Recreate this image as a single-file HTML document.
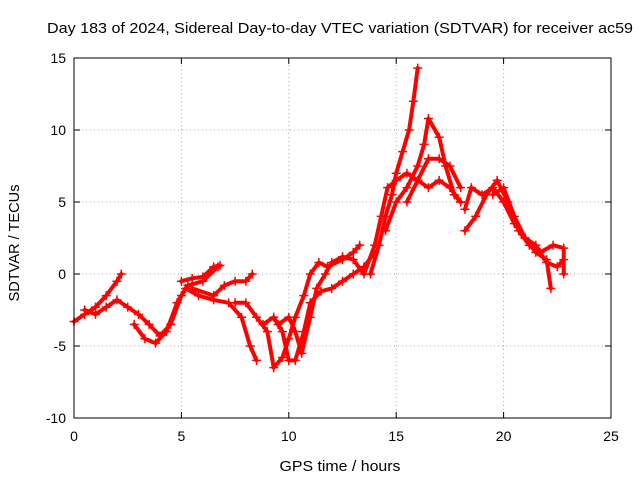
<!DOCTYPE html>
<html><head><meta charset="utf-8"><style>
body{margin:0;background:#fff;}
svg{display:block;font-family:"Liberation Sans",sans-serif;}
</style></head><body>
<svg id="chart" width="640" height="480">
<rect x="0" y="0" width="640" height="480" fill="#fff"/>
<text x="340" y="33" text-anchor="middle" font-size="15" textLength="586" lengthAdjust="spacingAndGlyphs">Day 183 of 2024, Sidereal Day-to-day VTEC variation (SDTVAR) for receiver ac59</text>
<text x="340" y="471" text-anchor="middle" font-size="15" textLength="121" lengthAdjust="spacingAndGlyphs">GPS time / hours</text>
<text transform="translate(19,243) rotate(-90)" text-anchor="middle" font-size="15" textLength="117" lengthAdjust="spacingAndGlyphs">SDTVAR / TECUs</text>
<g id="grid"></g><g id="ticks"></g><g id="marks"></g>
<rect x="74" y="58" width="537" height="360" fill="none" stroke="#000"/>
</svg>
<script>
const xTicks=[0,5,10,15,20,25];
const yTicks=[-10,-5,0,5,10,15];
const trackA=[[0,-3.3],[0.5,-2.8],[1,-2.3],[1.5,-1.5],[2,-0.5],[2.2,0]];
const trackB=[[0.5,-2.5],[1,-2.8],[1.5,-2.3],[2,-1.8],[2.5,-2.3],[3,-2.8],[3.5,-3.5],[4,-4.3],[4.5,-3.5],[5,-1.5],[5.3,-0.8],[6,-0.5],[6.7,0.5]];
const trackC=[[2.8,-3.5],[3.3,-4.5],[3.8,-4.8],[4.3,-4],[4.8,-2],[5.2,-1],[5.8,-1.5],[6.5,-1.8],[7.2,-2],[7.8,-3],[8.2,-5],[8.5,-6]];
const trackD=[[5,-0.5],[5.5,-0.3],[6,-0.2],[6.5,0.5],[6.8,0.6]];
const trackD2=[[5.5,-1],[6.5,-1.5],[7,-0.8],[7.5,-0.5],[8,-0.5],[8.3,0]];
const trackE=[[7.5,-2],[8,-2],[8.5,-3],[9,-4],[9.3,-6.5],[9.7,-5.8],[10,-4.5],[10.3,-3],[10.7,-1.5],[11,0],[11.4,0.8],[11.8,0.5],[12.5,1],[13,1.5],[13.3,2]];
const trackF=[[8.8,-3.5],[9.3,-3],[9.7,-4],[10,-6],[10.3,-6],[10.7,-4],[11,-2],[11.5,-1.2],[12,-1],[12.5,-0.5],[13,0],[13.5,0.5],[14,1.5]];
const trackG=[[9.5,-3.5],[10,-3],[10.3,-4],[10.6,-5.5],[11,-3],[11.3,-1],[11.7,0],[12,0.8],[12.5,1.2],[13,1],[13.5,0],[14,2],[14.3,4],[14.6,6],[15,6.5],[15.5,7],[16,6.5],[16.5,6],[17,6.5],[17.5,6],[18,5]];
const trackH=[[13.8,0],[14.2,2],[14.5,4],[14.8,5.5],[15,7],[15.3,8.5],[15.6,10],[15.8,12],[16,14.3]];
const trackI=[[14.5,3],[15,5],[15.5,6],[16,7.5],[16.3,9],[16.5,10.8],[17,9.5],[17.3,7.5],[17.7,5.5],[18,5]];
const trackJ=[[15.5,5],[16,6.5],[16.5,8],[17,8],[17.5,7.5],[18,6]];
const trackK=[[18.2,4.5],[18.5,6],[19,5.5],[19.5,6],[20,5],[20.5,3.5],[21,2.5],[21.5,1.5],[22,1],[22.2,-1]];
const trackL=[[18.2,3],[18.7,4],[19.2,5.5],[19.7,6.5],[20.2,5],[20.7,3],[21.2,2],[21.7,1.5],[22.3,2],[22.8,1.8],[22.8,0]];
const trackM=[[19.5,5.5],[20,6],[20.5,4],[21,2.5],[21.5,2],[22,0.8],[22.5,0.5],[22.8,1]];
const tracks=[trackA,trackB,trackC,trackD,trackD2,trackE,trackF,trackG,trackH,trackI,trackJ,trackK,trackL,trackM];

const NS="http://www.w3.org/2000/svg";
const X0=74,X1=611,Y0=418,Y1=58;
const xs=v=>X0+(v-0)/(25-0)*(X1-X0);
const ys=v=>Y0-(v+10)/(15+10)*(Y0-Y1);
function mk(tag,attrs,parent){const e=document.createElementNS(NS,tag);for(const k in attrs)e.setAttribute(k,attrs[k]);parent.appendChild(e);return e;}
const grid=document.getElementById('grid'),ticks=document.getElementById('ticks'),marks=document.getElementById('marks');
xTicks.forEach(t=>{
  const x=xs(t);
  if(t>0&&t<25){const g=mk('line',{x1:x,x2:x,y1:Y0,y2:Y1,stroke:'#aaa','stroke-dasharray':'1,3'},grid);
  
  }
  mk('line',{x1:x,x2:x,y1:Y0,y2:Y0-6,stroke:'#000'},ticks);
  mk('line',{x1:x,x2:x,y1:Y1,y2:Y1+6,stroke:'#000'},ticks);
  const l=mk('text',{x:x,y:Y0+23,'text-anchor':'middle','font-size':14},ticks);l.textContent=t;
  
  
});
yTicks.forEach(t=>{
  const y=ys(t);
  if(t>-10&&t<15){const g=mk('line',{x1:X0,x2:X1,y1:y,y2:y,stroke:'#aaa','stroke-dasharray':'1,3'},grid);
  
  }
  mk('line',{x1:X0,x2:X0+6,y1:y,y2:y,stroke:'#000'},ticks);
  mk('line',{x1:X1,x2:X1-6,y1:y,y2:y,stroke:'#000'},ticks);
  const l=mk('text',{x:X0-8,y:y+5,'text-anchor':'end','font-size':14},ticks);l.textContent=t;
  
  
});
tracks.forEach((tr,i)=>{
  const p=mk('polyline',{points:tr.map(d=>xs(d[0])+','+ys(d[1])).join(' '),fill:'none',stroke:'#f00','stroke-width':4,'stroke-linejoin':'round','stroke-linecap':'round'},marks);
  
  
  tr.forEach(d=>{
    const x=xs(d[0]),y=ys(d[1]);
    const m=mk('path',{d:`M${x-4.5},${y}H${x+4.5}M${x},${y-4.5}V${y+4.5}`,stroke:'#f00','stroke-width':1.5},marks);
    
    
  });
});
</script>
</body></html>
